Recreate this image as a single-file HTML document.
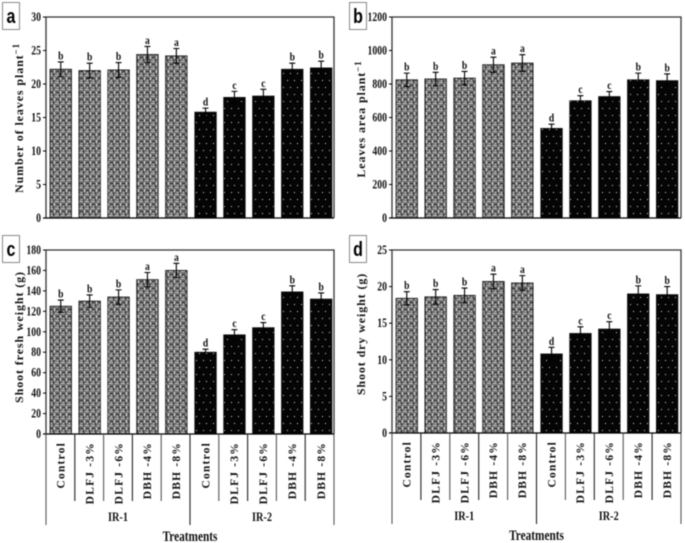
<!DOCTYPE html>
<html><head><meta charset="utf-8"><title>Treatment bar charts</title>
<style>
html,body{margin:0;padding:0;background:#fff;width:685px;height:543px;overflow:hidden}
svg{display:block;filter:blur(0.45px)}
text{font-family:"Liberation Serif",serif;font-weight:bold;fill:#111}
</style></head>
<body>
<svg id="chart" width="685" height="543" viewBox="0 0 685 543" xmlns="http://www.w3.org/2000/svg">
<defs>
<pattern id="grayFill" width="6" height="7" patternUnits="userSpaceOnUse">
<rect width="6" height="7" fill="#6e6e6e"/>
<rect x="0" y="0" width="1" height="3" fill="#e8e8e8"/>
<rect x="3" y="3" width="1" height="1" fill="#fff"/>
<rect x="2" y="1" width="3" height="1" fill="#2f2f2f"/>
<rect x="1" y="5" width="4" height="1" fill="#c8c8c8"/>
<rect x="5" y="3" width="1" height="3" fill="#333"/>
</pattern>
<pattern id="darkFill" width="14" height="14" patternUnits="userSpaceOnUse">
<rect width="14" height="14" fill="#050505"/>
<rect x="3" y="3" width="1" height="1" fill="#ddd"/>
<rect x="10" y="3" width="1" height="1" fill="#ddd"/>
<rect x="0" y="10" width="1" height="1" fill="#ddd"/>
<rect x="7" y="10" width="1" height="1" fill="#ddd"/>
</pattern>
</defs>
</svg>
<script>
const categories = ["Control","DLFJ -3%","DLFJ -6%","DBH -4%","DBH -8%","Control","DLFJ -3%","DLFJ -6%","DBH -4%","DBH -8%"];
const groups = ["IR-1","IR-2"];
const leavesValues = [22.2,22.0,22.1,24.4,24.2,15.8,18.0,18.2,22.2,22.4];
const leavesErrors = [1.1,1.1,1.1,1.2,1.1,0.6,0.9,1.0,0.9,1.0];
const leavesLetters = ["b","b","b","a","a","d","c","c","b","b"];
const leavesTicks = [0,5,10,15,20,25,30];
const areaValues = [825,830,835,915,925,535,700,725,825,820];
const areaErrors = [40,40,40,45,50,25,30,30,40,40];
const areaLetters = ["b","b","b","a","a","d","c","c","b","b"];
const areaTicks = [0,200,400,600,800,1000,1200];
const freshValues = [125,130,134,151,160,80,97,104,139,132];
const freshErrors = [6,6,7,7,7,3,5,5,6,6];
const freshLetters = ["b","b","b","a","a","d","c","c","b","b"];
const freshTicks = [0,20,40,60,80,100,120,140,160,180];
const dryValues = [18.4,18.6,18.8,20.7,20.5,10.8,13.6,14.2,19.0,18.9];
const dryErrors = [0.9,1.0,1.0,1.0,1.0,0.9,0.9,1.0,1.1,1.1];
const dryLetters = ["b","b","b","a","a","d","c","c","b","b"];
const dryTicks = [0,5,10,15,20,25];

const NS = "http://www.w3.org/2000/svg";
const root = document.getElementById("chart");
function make(parent, tag, attrs, text) {
  const el = document.createElementNS(NS, tag);
  for (const k in attrs) el.setAttribute(k, attrs[k]);
  if (text !== undefined) el.textContent = text;
  parent.appendChild(el);
  return el;
}
function drawPanel(p) {
  const g = make(root, "g", {});
  
  
  const maxTick = p.ticks[p.ticks.length - 1];
  const yScale = v => p.bottom - (v / maxTick) * (p.bottom - p.top);
  const xStart = i => p.left + 4 + i * 28.9 + (i >= 5 ? 0.3 : 0);

  const box = make(g, "rect", {x:p.boxX, y:p.boxY, width:p.boxW, height:p.boxH, fill:"#fff", stroke:"#8a8a8a", "stroke-width":1});
  
  
  const pl = make(g, "text", {transform:`translate(${p.boxX + p.boxW / 2} ${p.boxY + p.boxH / 2 + 7}) scale(0.8 1)`, "text-anchor":"middle", "font-size":20, style:'font-family:"Liberation Sans",sans-serif;fill:#000'}, p.key);
  
  

  p.values.forEach((v, i) => {
    const x = xStart(i), w = 21.5, y = yScale(v);
    const bar = make(g, "rect", {x:x, y:y, width:w, height:p.bottom - y, fill:i < 5 ? "url(#grayFill)" : "url(#darkFill)", stroke:"#111", "stroke-width":0.8});
    
    
    const cx = x + w / 2, hi = yScale(v + p.errors[i]), lo = yScale(v - p.errors[i]);
    const err = make(g, "path", {d:`M${cx} ${hi}V${lo}M${cx - 3} ${hi}H${cx + 3}M${cx - 3} ${lo}H${cx + 3}`, stroke:"#000", "stroke-width":1.1, fill:"none"});
    
    
    const lt = make(g, "text", {transform:`translate(${cx} ${hi - 2.5}) scale(0.8 1)`, "text-anchor":"middle", "font-size":12}, p.letters[i]);
    
    
    if (p.showCategories) {
      const cat = make(g, "text", {transform:`translate(${x + 14.5} ${p.bottom + 8}) rotate(-90)`, "text-anchor":"end", "font-size":11.5, "letter-spacing":1.2}, categories[i]);
      
      
    }
  });

  const frame = make(g, "path", {d:`M${p.left} ${p.top}H${p.right}V${p.bottom}M${p.left} ${p.top}V${p.bottom}`, fill:"none", stroke:"#333", "stroke-width":1.3});
  
  
  const base = make(g, "line", {x1:p.left - 3, x2:p.right, y1:p.bottom, y2:p.bottom, stroke:"#000", "stroke-width":1.3});
  
  

  p.ticks.forEach(t => {
    const y = yScale(t);
    const tick = make(g, "line", {x1:p.left - 3, x2:p.left, y1:y, y2:y, stroke:"#000", "stroke-width":1});
    
    
    const lb = make(g, "text", {transform:`translate(${p.left - 5} ${y + 4}) scale(0.78 1)`, "text-anchor":"end", "font-size":12.5}, t);
    
    
  });

  if (p.showCategories) {
    const step = (p.right - p.left) / 10;
    for (let i = 0; i <= 10; i++) {
      const x = p.left + i * step;
      const long = i % 5 === 0;
      const sep = make(g, "line", {x1:x, x2:x, y1:p.bottom, y2:p.bottom + (long ? 91 : 67), stroke:i % 2 ? "#222" : "#555", "stroke-width":1.1});
      
      
    }
    groups.forEach((name, i) => {
      const x = p.left + (i + 0.5) * (p.right - p.left) / 2;
      const gl = make(g, "text", {transform:`translate(${x} ${p.bottom + 87}) scale(0.82 1)`, "text-anchor":"middle", "font-size":12.5}, name);
      
      
    });
    const xt = make(g, "text", {transform:`translate(${(p.left + p.right) / 2} ${p.bottom + 107}) scale(0.78 1)`, "text-anchor":"middle", "font-size":14.5}, "Treatments");
    
    
  }

  const yt = make(g, "text", {transform:`translate(${p.titleX} ${p.titleY}) rotate(-90)`, "text-anchor":"middle", "font-size":12, "letter-spacing":p.titleSpace}, p.title);
  
  
  if (p.sup) {
    make(yt, "tspan", {dy:-4, "font-size":9}, "−1");
  }
}
drawPanel({key:"a", left:46, right:334, top:17, bottom:218, boxX:2.5, boxY:2.5, boxW:17, boxH:27, showCategories:false, ticks:leavesTicks, values:leavesValues, errors:leavesErrors, letters:leavesLetters, title:"Number of leaves plant", sup:true, titleX:23, titleY:118, titleSpace:0.9});
drawPanel({key:"b", left:392, right:681, top:17, bottom:218, boxX:349.5, boxY:2.5, boxW:17, boxH:27, showCategories:false, ticks:areaTicks, values:areaValues, errors:areaErrors, letters:areaLetters, title:"Leaves area plant", sup:true, titleX:365, titleY:119, titleSpace:0.9});
drawPanel({key:"c", left:46, right:334, top:250, bottom:434, boxX:2.5, boxY:235.5, boxW:17, boxH:27, showCategories:true, ticks:freshTicks, values:freshValues, errors:freshErrors, letters:freshLetters, title:"Shoot fresh weight (g)", sup:false, titleX:23, titleY:337, titleSpace:0.9});
drawPanel({key:"d", left:392, right:681, top:250, bottom:433, boxX:349.5, boxY:235.5, boxW:17, boxH:27, showCategories:true, ticks:dryTicks, values:dryValues, errors:dryErrors, letters:dryLetters, title:"Shoot dry weight (g)", sup:false, titleX:365, titleY:334, titleSpace:0.9});
</script>
</body></html>
